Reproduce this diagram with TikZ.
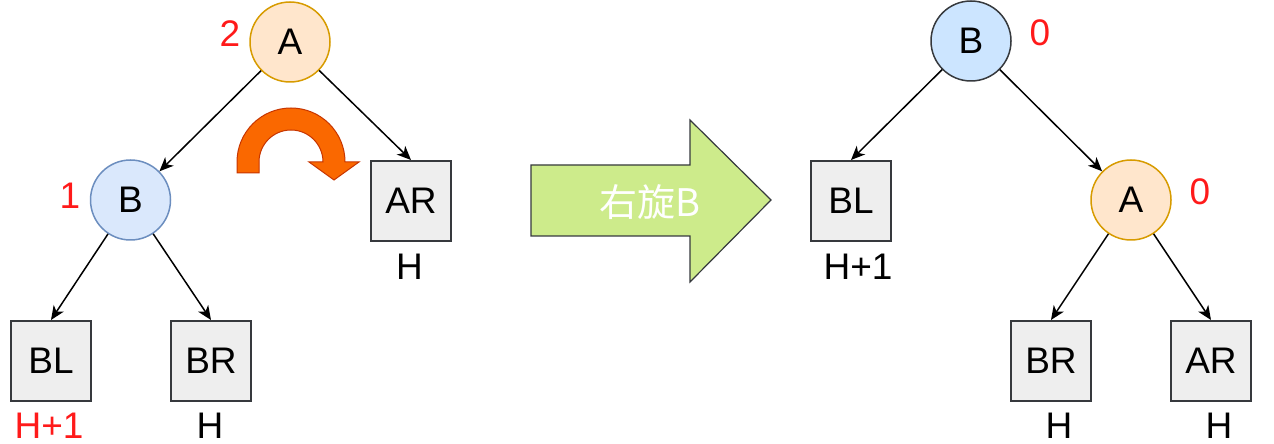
\documentclass[tikz,border=0pt]{standalone}
\usepackage{fontspec}
\setmainfont{Liberation Sans}
\newfontfamily\cjk{Noto Sans CJK SC}
\usetikzlibrary{arrows.meta}
\definecolor{orfill}{HTML}{FFE6CC}
\definecolor{orline}{HTML}{D79B00}
\definecolor{blfill}{HTML}{DAE8FC}
\definecolor{blline}{HTML}{6C8EBF}
\definecolor{bl2fill}{HTML}{CCE5FF}
\definecolor{dark}{HTML}{36393D}
\definecolor{boxfill}{HTML}{EEEEEE}
\definecolor{redtxt}{HTML}{FF1A1A}
\definecolor{grfill}{HTML}{CDEB8B}
\definecolor{rotfill}{HTML}{FA6800}
\definecolor{rotline}{HTML}{C73500}
\tikzset{
  big/.style={font=\fontsize{37}{40}\selectfont},
  circA/.style={circle, draw=orline, fill=orfill, line width=1.5pt, minimum size=80pt, inner sep=0pt, big},
  circB/.style={circle, draw=blline, fill=blfill, line width=1.5pt, minimum size=80pt, inner sep=0pt, big},
  circBb/.style={circle, draw=dark, fill=bl2fill, line width=1.5pt, minimum size=80pt, inner sep=0pt, big},
  subtree/.style={rectangle, draw=dark, fill=boxfill, line width=2pt, minimum size=80pt, inner sep=0pt, big},
  lbl/.style={inner sep=0pt, big},
  redlbl/.style={inner sep=0pt, big, text=redtxt},
  edge/.style={line width=1.5pt, -{Stealth[length=14pt,width=12pt,inset=4pt]}},
}
\begin{document}
\begin{tikzpicture}[x=1pt,y=1pt]
\useasboundingbox (0,0) rectangle (1274,444);
% left tree
\node[circA] (A1) at (290,402) {A};
\node[redlbl] (n2) at (230,410) {2};
\node[circB] (B1) at (130.5,244) {B};
\node[redlbl] (n1) at (70,248) {1};
\node[subtree] (AR1) at (411,243) {AR};
\node[lbl] (hAR1) at (409.5,177) {H};
\node[subtree] (BL1) at (51,83) {BL};
\node[redlbl] (hBL1) at (49,18) {H+1};
\node[subtree] (BR1) at (211,83) {BR};
\node[lbl] (hBR1) at (210,18) {H};
\draw[edge] (A1) -- (B1);
\draw[edge] (A1) -- (AR1.north);
\draw[edge] (B1) -- (BL1.north);
\draw[edge] (B1) -- (BR1.north);
% rotation arrow
\draw[fill=rotfill, draw=rotline, line width=1pt, line join=miter]
  (259,271) -- (237,271) -- (237,282) arc[start angle=180, end angle=0, radius=54]
  -- (359,282) -- (334,264) -- (309,282) -- (323,282)
  arc[start angle=0, end angle=180, radius=32] -- cycle;
% big arrow
\draw[fill=grfill, draw=dark, line width=1.2pt, line join=miter]
  (531,279) -- (690,279) -- (690,324) -- (771,244) -- (690,162) -- (690,208) -- (531,208) -- cycle;
\node[inner sep=0pt, text=white, font=\cjk\fontsize{38}{42}\selectfont] (rot) at (650,242) {右旋B};
% right tree
\node[circBb] (B2) at (971,403) {B};
\node[redlbl] (z1) at (1040,411) {0};
\node[subtree] (BL2) at (851,243) {BL};
\node[lbl] (hBL2) at (858,177) {H+1};
\node[circA] (A2) at (1131,244) {A};
\node[redlbl] (z2) at (1200,252) {0};
\node[subtree] (BR2) at (1051,83) {BR};
\node[lbl] (hBR2) at (1059,18) {H};
\node[subtree] (AR2) at (1211,83) {AR};
\node[lbl] (hAR2) at (1219,18) {H};
\draw[edge] (B2) -- (BL2.north);
\draw[edge] (B2) -- (A2);
\draw[edge] (A2) -- (BR2.north);
\draw[edge] (A2) -- (AR2.north);
\end{tikzpicture}
\end{document}
